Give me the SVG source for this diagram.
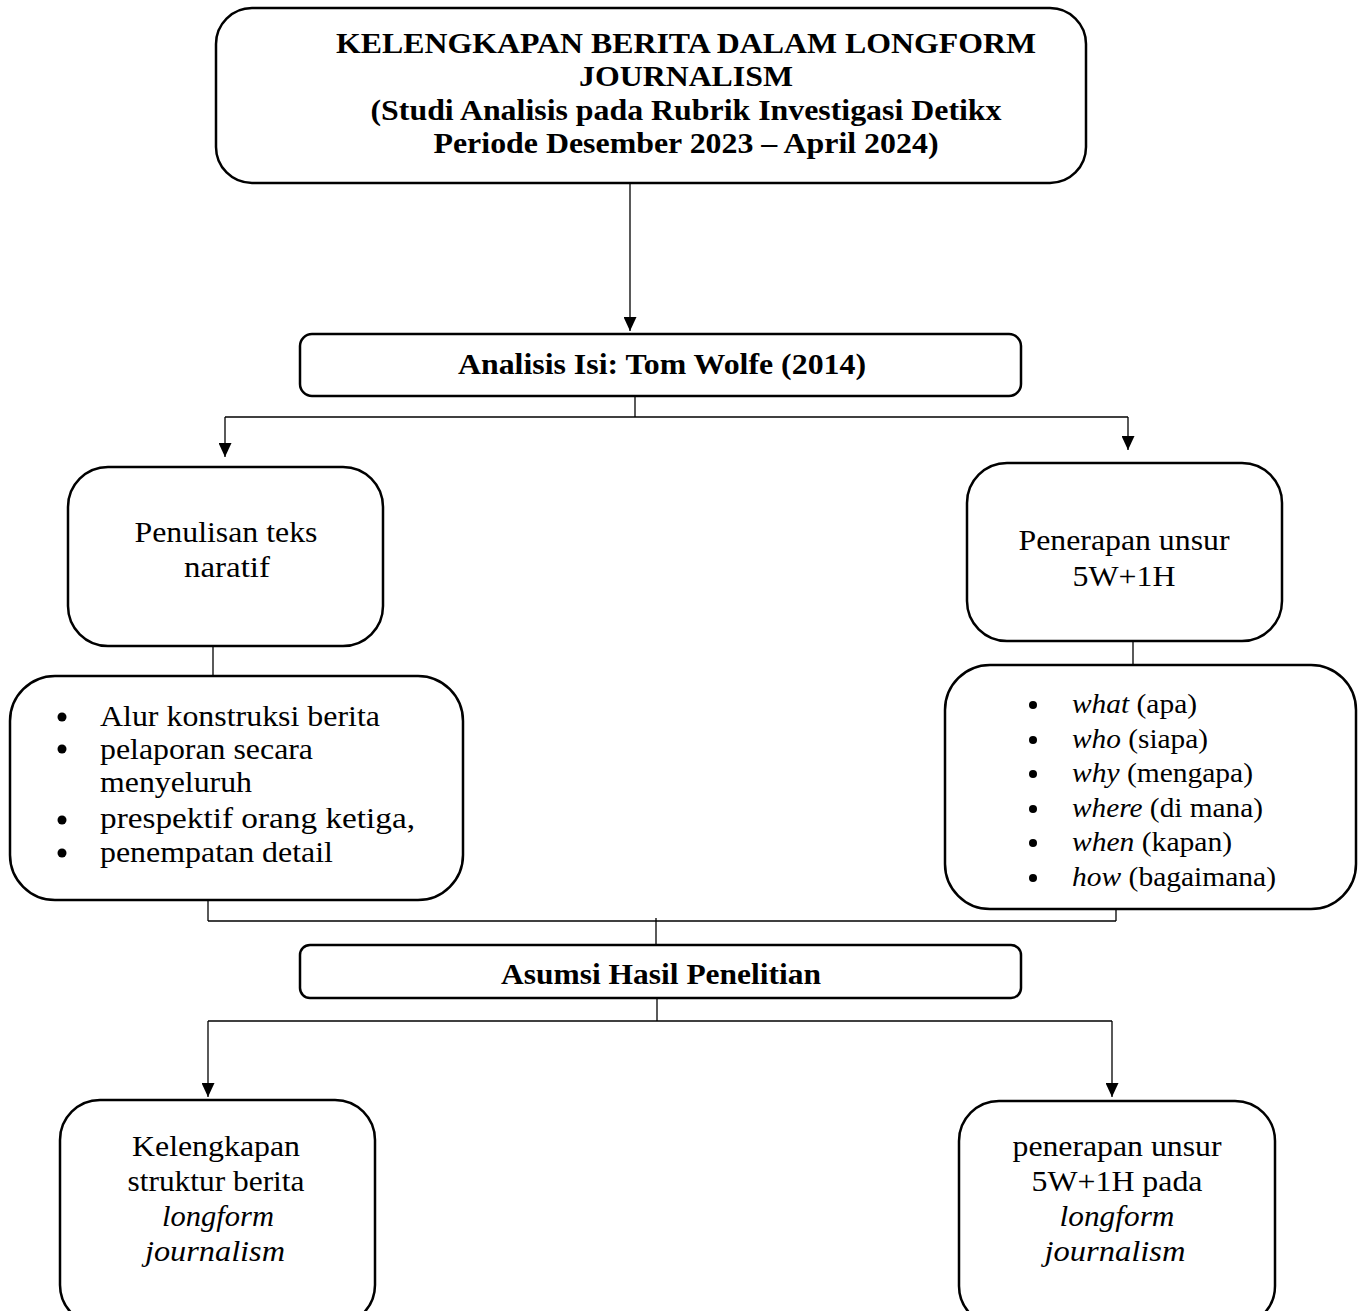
<svg xmlns="http://www.w3.org/2000/svg" width="1363" height="1311" viewBox="0 0 1363 1311">
<style>
.box{fill:#fff;stroke:#000;stroke-width:2.5}
.ln{fill:none;stroke:#000;stroke-width:1.3}
.t{font-family:"Liberation Serif","Times New Roman",serif;fill:#000}
.b{font-weight:bold}
.c{text-anchor:middle}
.i{font-style:italic}
</style>
<defs>
<marker id="ah" viewBox="0 0 10 10" refX="10" refY="5" markerWidth="14" markerHeight="13" markerUnits="userSpaceOnUse" orient="auto" preserveAspectRatio="none">
<path d="M0,0 L10,5 L0,10 z" fill="#000"/>
</marker>
</defs>
<rect width="1363" height="1311" fill="#fff"/>
<g id="connectors">
<line class="ln" x1="630" y1="183" x2="630" y2="331" marker-end="url(#ah)"/>
<line class="ln" x1="635" y1="396" x2="635" y2="417"/>
<line class="ln" x1="225" y1="417" x2="1128" y2="417"/>
<line class="ln" x1="225" y1="417" x2="225" y2="457" marker-end="url(#ah)"/>
<line class="ln" x1="1128" y1="417" x2="1128" y2="450" marker-end="url(#ah)"/>
<line class="ln" x1="213" y1="646" x2="213" y2="676"/>
<line class="ln" x1="1133" y1="641" x2="1133" y2="665"/>
<line class="ln" x1="208" y1="900" x2="208" y2="921"/>
<line class="ln" x1="1116" y1="909" x2="1116" y2="921"/>
<line class="ln" x1="208" y1="921" x2="1116" y2="921"/>
<line class="ln" x1="656" y1="918" x2="656" y2="945"/>
<line class="ln" x1="657" y1="998" x2="657" y2="1021"/>
<line class="ln" x1="208" y1="1021" x2="1112" y2="1021"/>
<line class="ln" x1="208" y1="1021" x2="208" y2="1097" marker-end="url(#ah)"/>
<line class="ln" x1="1112" y1="1021" x2="1112" y2="1097" marker-end="url(#ah)"/>
</g>
<g id="title">
<rect class="box" x="216" y="8" width="870" height="175" rx="36"/>
<text class="t b c" font-size="29" x="686" y="53" textLength="700" lengthAdjust="spacingAndGlyphs">KELENGKAPAN BERITA DALAM LONGFORM</text>
<text class="t b c" font-size="29" x="686" y="86" textLength="214" lengthAdjust="spacingAndGlyphs">JOURNALISM</text>
<text class="t b c" font-size="29" x="686" y="120" textLength="631" lengthAdjust="spacingAndGlyphs">(Studi Analisis pada Rubrik Investigasi Detikx</text>
<text class="t b c" font-size="29" x="686" y="153" textLength="505" lengthAdjust="spacingAndGlyphs">Periode Desember 2023 – April 2024)</text>
</g>
<g id="analisis">
<rect class="box" x="300" y="334" width="721" height="62" rx="12"/>
<text class="t b c" font-size="29" x="662" y="374" textLength="408" lengthAdjust="spacingAndGlyphs">Analisis Isi: Tom Wolfe (2014)</text>
</g>
<g id="penulisan">
<rect class="box" x="68" y="467" width="315" height="179" rx="40"/>
<text class="t c" font-size="30" x="226" y="542" textLength="183" lengthAdjust="spacingAndGlyphs">Penulisan teks</text>
<text class="t c" font-size="30" x="227" y="577" textLength="86" lengthAdjust="spacingAndGlyphs">naratif</text>
</g>
<g id="penerapan">
<rect class="box" x="967" y="463" width="315" height="178" rx="40"/>
<text class="t c" font-size="30" x="1124" y="550" textLength="211" lengthAdjust="spacingAndGlyphs">Penerapan unsur</text>
<text class="t c" font-size="30" x="1124" y="586" textLength="103" lengthAdjust="spacingAndGlyphs">5W+1H</text>
</g>
<g id="narasi-list">
<rect class="box" x="10" y="676" width="453" height="224" rx="45"/>
<g class="t" font-size="30">
<circle cx="62" cy="717" r="4.5"/>
<circle cx="62" cy="749" r="4.5"/>
<circle cx="62" cy="820" r="4.5"/>
<circle cx="62" cy="853" r="4.5"/>
<text x="100" y="726" textLength="280" lengthAdjust="spacingAndGlyphs">Alur konstruksi berita</text>
<text x="100" y="759" textLength="213" lengthAdjust="spacingAndGlyphs">pelaporan secara</text>
<text x="100" y="792" textLength="152" lengthAdjust="spacingAndGlyphs">menyeluruh</text>
<text x="100" y="828" textLength="315" lengthAdjust="spacingAndGlyphs">prespektif orang ketiga,</text>
<text x="100" y="862" textLength="233" lengthAdjust="spacingAndGlyphs">penempatan detail</text>
</g>
</g>
<g id="unsur-list">
<rect class="box" x="945" y="665" width="411" height="244" rx="45"/>
<g class="t" font-size="27">
<circle cx="1033" cy="705" r="4"/>
<circle cx="1033" cy="740" r="4"/>
<circle cx="1033" cy="774" r="4"/>
<circle cx="1033" cy="809" r="4"/>
<circle cx="1033" cy="843" r="4"/>
<circle cx="1033" cy="878" r="4"/>
<text x="1072" y="713" textLength="125" lengthAdjust="spacingAndGlyphs"><tspan class="i">what</tspan> (apa)</text>
<text x="1072" y="748" textLength="136" lengthAdjust="spacingAndGlyphs"><tspan class="i">who</tspan> (siapa)</text>
<text x="1072" y="782" textLength="181" lengthAdjust="spacingAndGlyphs"><tspan class="i">why</tspan> (mengapa)</text>
<text x="1072" y="817" textLength="191" lengthAdjust="spacingAndGlyphs"><tspan class="i">where</tspan> (di mana)</text>
<text x="1072" y="851" textLength="160" lengthAdjust="spacingAndGlyphs"><tspan class="i">when</tspan> (kapan)</text>
<text x="1072" y="886" textLength="204" lengthAdjust="spacingAndGlyphs"><tspan class="i">how</tspan> (bagaimana)</text>
</g>
</g>
<g id="asumsi">
<rect class="box" x="300" y="945" width="721" height="53" rx="10"/>
<text class="t b c" font-size="29" x="661" y="984" textLength="320" lengthAdjust="spacingAndGlyphs">Asumsi Hasil Penelitian</text>
</g>
<g id="hasil-kiri">
<rect class="box" x="60" y="1100" width="315" height="225" rx="40"/>
<text class="t c" font-size="30" x="216" y="1156" textLength="168" lengthAdjust="spacingAndGlyphs">Kelengkapan</text>
<text class="t c" font-size="30" x="216" y="1191" textLength="177" lengthAdjust="spacingAndGlyphs">struktur berita</text>
<text class="t c i" font-size="30" x="218" y="1226" textLength="112" lengthAdjust="spacingAndGlyphs">longform</text>
<text class="t c i" font-size="30" x="215" y="1261" textLength="140" lengthAdjust="spacingAndGlyphs">journalism</text>
</g>
<g id="hasil-kanan">
<rect class="box" x="959" y="1101" width="316" height="225" rx="40"/>
<text class="t c" font-size="30" x="1117" y="1156" textLength="209" lengthAdjust="spacingAndGlyphs">penerapan unsur</text>
<text class="t c" font-size="30" x="1117" y="1191" textLength="171" lengthAdjust="spacingAndGlyphs">5W+1H pada</text>
<text class="t c i" font-size="30" x="1117" y="1226" textLength="115" lengthAdjust="spacingAndGlyphs">longform</text>
<text class="t c i" font-size="30" x="1115" y="1261" textLength="141" lengthAdjust="spacingAndGlyphs">journalism</text>
</g>
</svg>
